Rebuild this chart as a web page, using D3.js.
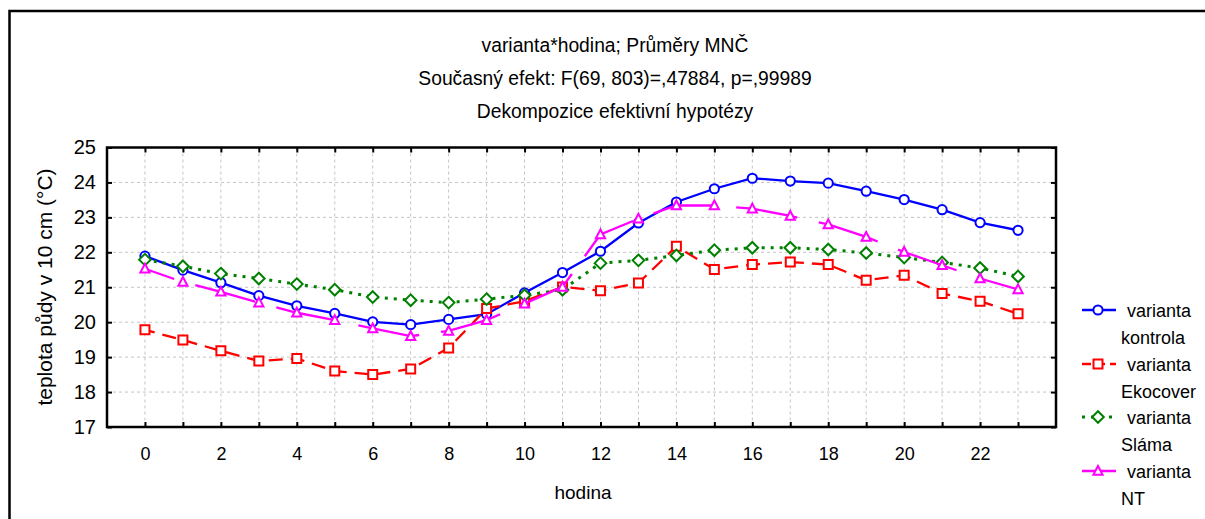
<!DOCTYPE html>
<html><head><meta charset="utf-8">
<script src="https://cdn.jsdelivr.net/npm/d3@7"></script>
<style>body{margin:0;background:#fff}svg{display:block}text{font-family:"Liberation Sans",Arial,sans-serif;fill:#000}</style>
</head><body>
<script>
const hours = d3.range(0, 24);
const xTickLabels = [0,2,4,6,8,10,12,14,16,18,20,22];
const yTickLabels = [17,18,19,20,21,22,23,24,25];
const titles = ["varianta*hodina; Průměry MNČ", "Současný efekt: F(69, 803)=,47884, p=,99989", "Dekompozice efektivní hypotézy"];
const seriesNames = ["kontrola", "Ekocover", "Sláma", "NT"];
const kontrola = [21.89,21.49,21.13,20.76,20.47,20.25,20.01,19.93,20.08,20.23,20.84,21.42,22.03,22.84,23.44,23.82,24.12,24.04,23.98,23.75,23.51,23.22,22.85,22.63];
const ekocover = [19.78,19.49,19.18,18.89,18.96,18.60,18.50,18.66,19.26,20.39,20.60,21.01,20.90,21.12,22.17,21.51,21.65,21.72,21.65,21.20,21.34,20.82,20.60,20.24];
const slama    = [21.79,21.60,21.39,21.25,21.09,20.93,20.72,20.63,20.56,20.66,20.77,20.93,21.69,21.77,21.91,22.06,22.13,22.13,22.08,21.98,21.85,21.71,21.55,21.31];
const nt       = [21.53,21.15,20.87,20.56,20.27,20.06,19.82,19.60,19.75,20.06,20.53,21.01,22.51,22.96,23.34,23.34,23.25,23.04,22.80,22.44,22.01,21.63,21.25,20.94];

const W = 1205, H = 519;
const svg = d3.select("body").append("svg").attr("width", W).attr("height", H);

// outer frame (top & left visible)
svg.append("path").attr("d", `M9.5,${H} L9.5,11 L${W},11`).attr("fill","none").attr("stroke","#000").attr("stroke-width",2.5);

const L = 107, R = 1056, T = 147.5, B = 427;
const x = d3.scaleLinear().domain([-1, 24]).range([L, R]);
const y = d3.scaleLinear().domain([17, 25]).range([B, T]);

// titles
titles.forEach((t, i) => {
  svg.append("text").attr("x", 615).attr("y", 52 + i*33).attr("text-anchor","middle")
    .style("font-size","19.3px").text(t);
});

// grid
const grid = svg.append("g").attr("stroke","#c4c4c4").attr("stroke-width",1).attr("stroke-dasharray","3,3");
hours.forEach(h => grid.append("line").attr("x1", x(h)).attr("x2", x(h)).attr("y1", T).attr("y2", B));
d3.range(18, 25).forEach(v => grid.append("line").attr("x1", L).attr("x2", R).attr("y1", y(v)).attr("y2", y(v)));

// axes with inward ticks
const gx = svg.append("g").attr("transform", `translate(0,${B})`)
  .call(d3.axisBottom(x).tickValues(hours).tickSize(-5).tickPadding(20).tickFormat(d => xTickLabels.includes(d) ? d : ""));
const gxt = svg.append("g").attr("transform", `translate(0,${T})`)
  .call(d3.axisTop(x).tickValues(hours).tickSize(-5).tickFormat(""));
const gy = svg.append("g").attr("transform", `translate(${L},0)`)
  .call(d3.axisLeft(y).tickValues(yTickLabels).tickSize(-5).tickPadding(11).tickFormat(d3.format("d")));
const gyr = svg.append("g").attr("transform", `translate(${R},0)`)
  .call(d3.axisRight(y).tickValues(yTickLabels).tickSize(-5).tickFormat(""));
[gx,gxt,gy,gyr].forEach(g => { g.select(".domain").remove(); g.selectAll("line").attr("stroke","#000").attr("stroke-width",2); });
gx.selectAll("text").style("font-size","18px").style("font-family","Liberation Sans, Arial").attr("fill","#000");
gy.selectAll("text").style("font-size","20px").style("font-family","Liberation Sans, Arial").attr("fill","#000");

svg.append("rect").attr("x", L).attr("y", T).attr("width", R-L).attr("height", B-T)
  .attr("fill","none").attr("stroke","#000").attr("stroke-width",2.5);

// axis titles
svg.append("text").attr("x", 583).attr("y", 499).attr("text-anchor","middle").style("font-size","19px").text("hodina");
svg.append("text").attr("transform","translate(52,287) rotate(-90)").attr("text-anchor","middle").style("font-size","21px").text("teplota půdy v 10 cm (°C)");

// series
const series = [
  {name: seriesNames[0], values: kontrola, color: "#0000ff", dash: null, offset: 0, marker: "circle", lw: 2.3},
  {name: seriesNames[1], values: ekocover, color: "#ff0000", dash: "14,8", offset: 4, marker: "square", lw: 2.3},
  {name: seriesNames[2], values: slama, color: "#008000", dash: "3,6", offset: 0, marker: "diamond", lw: 3},
  {name: seriesNames[3], values: nt, color: "#ff00ff", dash: "62,22", offset: 31, marker: "triangle", lw: 2.3}
];
const symbols = {
  circle: "M4.6,0A4.6,4.6,0,1,1,-4.6,0A4.6,4.6,0,1,1,4.6,0Z",
  square: "M-4.5,-4.5H4.5V4.5H-4.5Z",
  diamond: "M0,-5.8L5.8,0L0,5.8L-5.8,0Z",
  triangle: "M0,-5L4.6,3.8H-4.6Z"
};
const line = d3.line().x((d,i) => x(hours[i])).y(d => y(d));
series.forEach(s => {
  const p = svg.append("path").datum(s.values).attr("d", line).attr("fill","none")
    .attr("stroke", s.color).attr("stroke-width", s.lw);
  if (s.dash) p.attr("stroke-dasharray", s.dash).attr("stroke-dashoffset", s.offset);
  svg.append("g").selectAll("path").data(s.values).join("path")
    .attr("transform", (d,i) => `translate(${x(hours[i])},${y(d)})`)
    .attr("d", symbols[s.marker]).attr("fill","#fff").attr("stroke", s.color).attr("stroke-width", 2);
});

// legend
const ly = [310, 364, 417, 471];
const legendDash = [null, "9,5", "3,6", null];
series.forEach((s, i) => {
  const g = svg.append("g").attr("transform", `translate(0,${ly[i]})`);
  const l = g.append("line").attr("x1", 1082).attr("x2", 1116).attr("y1", 0).attr("y2", 0)
    .attr("stroke", s.color).attr("stroke-width", s.lw);
  if (legendDash[i]) l.attr("stroke-dasharray", legendDash[i]);
  g.append("path").attr("transform","translate(1098,0)").attr("d", symbols[s.marker]).attr("fill","#fff").attr("stroke", s.color).attr("stroke-width", 2);
  g.append("text").attr("x", 1127).attr("y", 7).style("font-size","18px").text("varianta");
  g.append("text").attr("x", 1121).attr("y", 34).style("font-size","18px").text(s.name);
});
</script>
</body></html>
